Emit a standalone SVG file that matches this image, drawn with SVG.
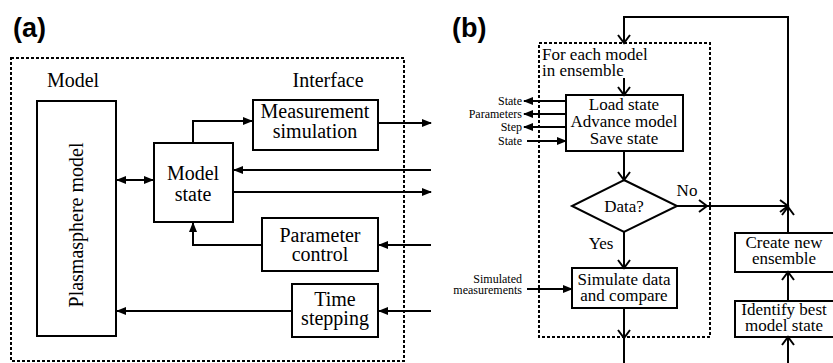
<svg xmlns="http://www.w3.org/2000/svg" width="833" height="363" viewBox="0 0 833 363">
<style>
.box{fill:#fff;stroke:#000;stroke-width:2}
.dash{fill:none;stroke:#000;stroke-width:2;stroke-dasharray:3 2}
.ln{fill:none;stroke:#000;stroke-width:2}
.t{font-family:"Liberation Serif","Times New Roman","DejaVu Serif",serif;font-size:20px;fill:#000;text-anchor:middle}
.tb{font-family:"Liberation Serif","Times New Roman","DejaVu Serif",serif;font-size:17px;fill:#000;text-anchor:middle}
.ts{font-family:"Liberation Serif","Times New Roman","DejaVu Serif",serif;font-size:12px;fill:#000;text-anchor:end}
.lab{font-family:"Liberation Sans",Arial,sans-serif;font-size:27px;font-weight:bold;fill:#000}
.fa{marker-end:url(#tri)}
.ch{marker-end:url(#chev)}
</style>
<defs>
<marker id="tri" markerUnits="userSpaceOnUse" viewBox="0 0 10 8" refX="9" refY="4" markerWidth="10" markerHeight="8" orient="auto-start-reverse">
<path d="M0,0 L10,4 L0,8 z" fill="#000"/>
</marker>
<marker id="chev" markerUnits="userSpaceOnUse" viewBox="-10 -8 12 16" refX="0" refY="0" markerWidth="12" markerHeight="16" orient="auto">
<path d="M-8,-6 L0,0 L-8,6" fill="none" stroke="#000" stroke-width="2"/>
</marker>
</defs>

<text class="lab" x="13" y="37">(a)</text>
<text class="lab" x="452" y="37">(b)</text>

<g id="panel-a-frame"><rect class="dash" x="11" y="58" width="393" height="303"/></g>
<g id="label-model"><text class="t" x="73" y="87">Model</text></g>
<g id="label-interface"><text class="t" x="328" y="87">Interface</text></g>

<g id="plasmasphere-model"><rect class="box" x="37" y="101" width="79" height="235"/>
<text class="t" transform="translate(83,225) rotate(-90)">Plasmasphere model</text></g>
<g id="model-state"><rect class="box" x="154" y="143" width="79" height="79"/>
<text class="t" x="193" y="180">Model</text><text class="t" x="193" y="201">state</text></g>
<g id="measurement-simulation"><rect class="box" x="253" y="100" width="125" height="50"/>
<text class="t" x="315" y="118">Measurement</text><text class="t" x="315" y="138">simulation</text></g>
<g id="parameter-control"><rect class="box" x="262" y="218" width="116" height="53"/>
<text class="t" x="320" y="242">Parameter</text><text class="t" x="320" y="261">control</text></g>
<g id="time-stepping"><rect class="box" x="292" y="284" width="86" height="53"/>
<text class="t" x="335" y="306">Time</text><text class="t" x="335" y="325">stepping</text></g>

<g id="panel-b-frame"><rect class="dash" x="539" y="43" width="171" height="294"/>
<text class="tb" style="text-anchor:start" x="542" y="60">For each model</text>
<text class="tb" style="text-anchor:start" x="542" y="76">in ensemble</text></g>
<g id="load-state"><rect class="box" x="566" y="95" width="117" height="56"/>
<text class="tb" x="624" y="110">Load state</text><text class="tb" x="624" y="127">Advance model</text><text class="tb" x="624" y="144">Save state</text></g>
<g id="data-decision"><path class="box" d="M624,180 L677,206 L624,232 L572,206 z"/>
<text class="tb" x="624" y="212">Data?</text></g>
<g id="simulate-data"><rect class="box" x="572" y="268" width="105" height="40"/>
<text class="tb" x="624" y="285">Simulate data</text><text class="tb" x="624" y="301">and compare</text></g>
<g id="create-ensemble"><rect class="box" x="735" y="233" width="99" height="39"/>
<text class="tb" x="784" y="248">Create new</text><text class="tb" x="784" y="264">ensemble</text></g>
<g id="identify-best"><rect class="box" x="735" y="301" width="99" height="36"/>
<text class="tb" x="784" y="315">Identify best</text><text class="tb" x="784" y="331">model state</text></g>

<g id="connectors">
<path class="ln fa" d="M193,143 V121 H252"/>
<path class="ln fa" d="M378,123 H431"/>
<path class="ln fa" d="M431,170 H234"/>
<path class="ln fa" d="M233,192 H431"/>
<path class="ln fa" style="marker-start:url(#tri)" d="M117,180 H153"/>
<path class="ln fa" d="M262,245 H193 V223"/>
<path class="ln fa" d="M431,245 H379"/>
<path class="ln fa" d="M292,311 H117"/>
<path class="ln fa" d="M431,311 H379"/>

<path class="ln ch" d="M788,233 V207"/>
<path class="ln ch" d="M788,207 V17 H624 V43"/>
<path class="ln ch" d="M624,78 V95"/>
<path class="ln ch" d="M624,151 V180"/>
<path class="ln ch" d="M624,232 V268"/>
<path class="ln ch" d="M677,206 H707"/>
<path class="ln ch" d="M707,206 H788"/>
<path class="ln ch" d="M624,308 V338"/>
<path class="ln" d="M624,338 V363"/>
<path class="ln ch" d="M788,363 V337"/>
<path class="ln ch" d="M788,301 V272"/>
<path class="ln fa" d="M566,101 H524"/>
<path class="ln fa" d="M566,114 H524"/>
<path class="ln fa" d="M566,127 H524"/>
<path class="ln fa" d="M527,141 H566"/>
<path class="ln fa" d="M527,289 H572"/>
<text class="tb" x="687" y="196">No</text>
<text class="tb" x="601" y="249">Yes</text>
<text class="ts" x="522" y="105">State</text>
<text class="ts" x="522" y="118">Parameters</text>
<text class="ts" x="522" y="131">Step</text>
<text class="ts" x="522" y="145">State</text>
<text class="ts" x="522" y="283">Simulated</text>
<text class="ts" x="522" y="294">measurements</text>
</g>
</svg>
